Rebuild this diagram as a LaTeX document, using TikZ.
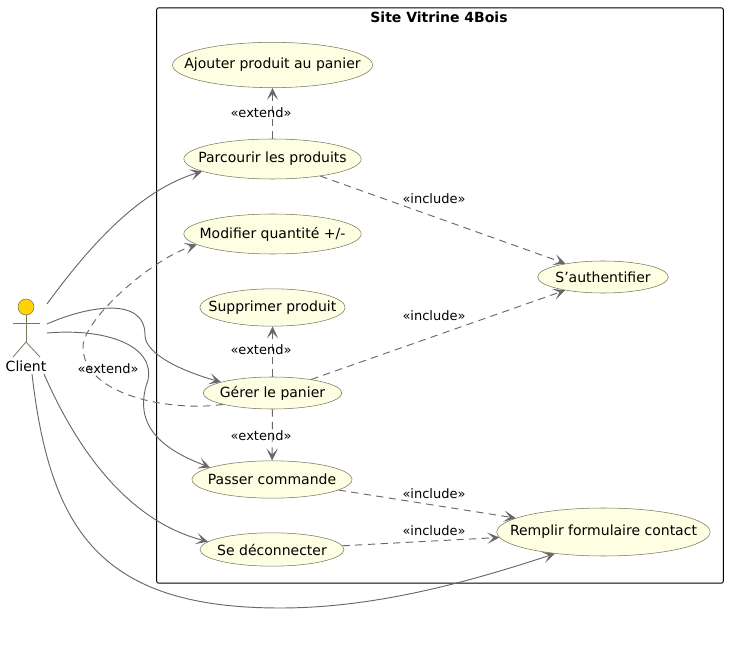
\documentclass[tikz,border=0pt]{standalone}
\usepackage{fontspec}
\setmainfont[Ligatures=ResetAll]{DejaVu Sans}
\usetikzlibrary{shapes.geometric,arrows.meta}
\definecolor{usefill}{HTML}{FEFEE2}
\definecolor{useline}{HTML}{77775A}
\definecolor{linkgray}{HTML}{686868}
\definecolor{actorfill}{HTML}{FFD200}
\newcommand{\uselabel}[1]{\makebox[0pt]{#1}}
\tikzset{
  usecase/.style={ellipse, draw=useline, fill=usefill, inner sep=0pt, font=\fontsize{10.5pt}{12pt}\selectfont},
  tag/.style={inner sep=0pt, font=\fontsize{9.75pt}{12pt}\selectfont},
  link/.style={draw=linkgray, line width=0.7pt, -{Stealth[length=9pt,width=8.5pt,inset=4.5pt]}},
  dep/.style={link, dash pattern=on 5.5pt off 4pt},
}
\begin{document}
\begin{tikzpicture}[x=0.75pt,y=-0.75pt]
    \useasboundingbox (0,0) rectangle (729,645);
    \node (frame) [draw=black, line width=0.7pt, rounded corners=1.5pt, minimum width=425pt, minimum height=431.5pt, inner sep=0pt] at (440,295.5) {};
    \node (title) [inner sep=0pt, font=\fontsize{10.5pt}{12pt}\selectfont\bfseries] at (439,17) {Site Vitrine 4Bois};

    \node (ajouter) [usecase, minimum width=150pt, minimum height=34pt] at (272.5,65) {\uselabel{Ajouter produit au panier}};
    \node (parcourir) [usecase, minimum width=133pt, minimum height=30pt] at (272.5,159) {\uselabel{Parcourir les produits}};
    \node (modifier) [usecase, minimum width=133pt, minimum height=30pt] at (272.5,234) {\uselabel{Modifier quantité +/-}};
    \node (supprimer) [usecase, minimum width=109pt, minimum height=28pt] at (272.5,307.5) {\uselabel{Supprimer produit}};
    \node (gerer) [usecase, minimum width=104pt, minimum height=24pt] at (272.5,393) {\uselabel{Gérer le panier}};
    \node (passer) [usecase, minimum width=120pt, minimum height=28pt] at (272,479.5) {\uselabel{Passer commande}};
    \node (deconnecter) [usecase, minimum width=108pt, minimum height=25pt] at (272,549.5) {\uselabel{Se déconnecter}};
    \node (auth) [usecase, minimum width=98pt, minimum height=24pt] at (603,277) {\uselabel{S'authentifier}};
    \node (remplir) [usecase, minimum width=160pt, minimum height=36pt] at (603.5,532) {\uselabel{Remplir formulaire contact}};

    \node (head) [circle, draw=useline, fill=actorfill, minimum size=12pt, inner sep=0pt] at (26,307) {};
    \coordinate (hip) at (26,342);
    \coordinate (armL) at (13,323);
    \coordinate (armR) at (40,323);
    \coordinate (footL) at (13,357);
    \coordinate (footR) at (40,357);
    \node (client) [inner sep=0pt, font=\fontsize{10.5pt}{12pt}\selectfont] at (26,366) {Client};
    \draw [useline, line width=0.6pt] (head) -- (hip);
    \draw [useline, line width=0.6pt] (armL) -- (armR);
    \draw [useline, line width=0.6pt] (footL) -- (hip) -- (footR);

    \coordinate (c1) at (47,304);
    \coordinate (c2) at (47,324);
    \coordinate (c3) at (47,333);
    \coordinate (c4) at (44,374);
    \coordinate (c5) at (32,374);

    \draw [link] (c1) .. controls (90,245) and (140,190) .. (parcourir.190);
    \draw [link] (c2) .. controls (85,307) and (145,295) .. (145,335) .. controls (145,355) and (185,372) .. (gerer.168);
    \draw [link] (c3) .. controls (105,328) and (155,345) .. (148,380) .. controls (130,430) and (170,452) .. (passer.169);
    \draw [link] (c4) .. controls (75,445) and (125,520) .. (deconnecter.173);
    \draw [link] (c5) .. controls (50,530) and (100,608) .. (280,608) .. controls (370,608) and (460,585) .. (remplir.204);

    \draw [dep] (parcourir) -- (ajouter);
    \draw [dep] (gerer) -- (supprimer);
    \draw [dep] (gerer) -- (passer);
    \draw [dep] (parcourir) -- (auth);
    \draw [dep] (gerer) -- (auth);
    \draw [dep] (passer) -- (remplir);
    \draw [dep] (deconnecter) -- (remplir);
    \draw [dep] (gerer.193) .. controls (170,412) and (83,395) .. (83,347) .. controls (83,320) and (150,260) .. (modifier.188);

    \node (e1) [tag] at (261,113) {«extend»};
    \node (e2) [tag] at (261,350) {«extend»};
    \node (e3) [tag] at (261,436) {«extend»};
    \node (e4) [tag] at (108,369) {«extend»};
    \node (i1) [tag] at (434,199) {«include»};
    \node (i2) [tag] at (434,316) {«include»};
    \node (i3) [tag] at (434,494) {«include»};
    \node (i4) [tag] at (434,531) {«include»};
\end{tikzpicture}
\end{document}
